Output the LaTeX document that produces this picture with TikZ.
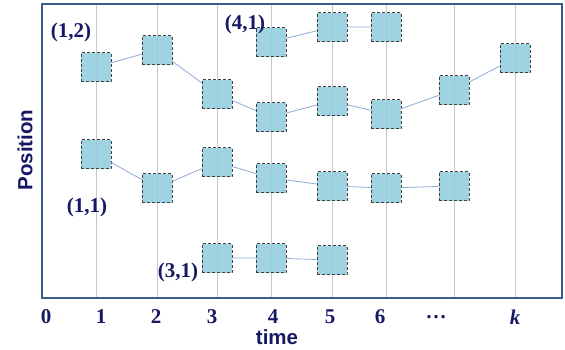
\documentclass[tikz,border=0pt]{standalone}
\usepackage{fontspec}
\setmainfont{Liberation Serif}
\setsansfont{Liberation Sans}
\usepackage{xcolor}
\usetikzlibrary{positioning}
\definecolor{labnavy}{RGB}{22,24,100}
\definecolor{framesteel}{RGB}{60,92,140}
\definecolor{cellblue}{RGB}{147,205,221}
\definecolor{linkblue}{RGB}{140,172,214}
\definecolor{gridgrey}{RGB}{200,200,200}

\begin{document}
\begin{tikzpicture}[x=1pt, y=-1pt,
  cell/.style={draw=black!75, densely dashed, line width=0.6pt, fill=cellblue,
               fill opacity=0.88, minimum width=30pt, minimum height=29pt, inner sep=0pt},
  link/.style={draw=linkblue, line width=0.8pt},
  gridline/.style={draw=gridgrey, line width=0.9pt},
  tag/.style={text=labnavy, inner sep=0pt, font=\bfseries\fontsize{21}{23}\selectfont},
  axlab/.style={text=labnavy, inner sep=0pt, font=\sffamily\bfseries\fontsize{20.5}{23}\selectfont}]
\useasboundingbox (0,0) rectangle (565,349);
% time grid
\foreach \gx in {96,157,217,271,332,386,454,515}
  \draw[gridline] (\gx,5) -- (\gx,297);
% track from (1,2)
\node[cell] (a1) at (96,67) {};
\node[cell] (a2) at (157,50) {};
\node[cell] (a3) at (217,94) {};
\node[cell] (a4) at (271,117) {};
\node[cell] (a5) at (332,101) {};
\node[cell] (a6) at (386,114) {};
\node[cell] (a7) at (454,90) {};
\node[cell] (a8) at (515,58) {};
% track from (4,1)
\node[cell] (b4) at (271,42) {};
\node[cell] (b5) at (332,27) {};
\node[cell] (b6) at (386,27) {};
% track from (1,1)
\node[cell] (c1) at (96,154) {};
\node[cell] (c2) at (157,188) {};
\node[cell] (c3) at (217,162) {};
\node[cell] (c4) at (271,178) {};
\node[cell] (c5) at (332,186) {};
\node[cell] (c6) at (386,188) {};
\node[cell] (c7) at (454,186) {};
% track from (3,1)
\node[cell] (d3) at (217,258) {};
\node[cell] (d4) at (271,258) {};
\node[cell] (d5) at (332,260) {};
\draw[link] (a1) -- (a2) -- (a3) -- (a4) -- (a5) -- (a6) -- (a7) -- (a8);
\draw[link] (b4) -- (b5) -- (b6);
\draw[link] (c1) -- (c2) -- (c3) -- (c4) -- (c5) -- (c6) -- (c7);
\draw[link] (d3) -- (d4) -- (d5);
\draw[framesteel, line width=2.8pt] (42,4) rectangle (562,298);
% start labels
\node[tag] (l12) at (71,32) {(1,2)};
\node[tag] (l41) at (245,24) {(4,1)};
\node[tag] (l11) at (87,207) {(1,1)};
\node[tag] (l31) at (178,272) {(3,1)};
% axes
\node[tag] (t0) at (46,317) {0};
\node[tag] (t1) at (101,317) {1};
\node[tag] (t2) at (156,317) {2};
\node[tag] (t3) at (212,317) {3};
\node[tag] (t4) at (273,317) {4};
\node[tag] (t5) at (330,317) {5};
\node[tag] (t6) at (380,317) {6};
\node[tag] (tdots) at (436,317) {\dots};
\node[tag] (tk) at (515,317) {\itshape k};
\node[axlab] (xlab) at (277,337) {time};
\node[axlab, rotate=90] (ylab) at (25,150) {Position};
\end{tikzpicture}
\end{document}
